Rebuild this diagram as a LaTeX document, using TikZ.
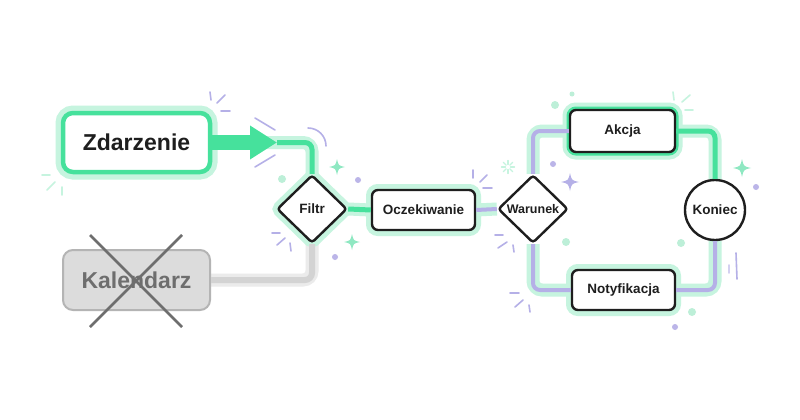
\documentclass[tikz,border=0pt]{standalone}
\usepackage{fontspec}
\setmainfont{Liberation Sans}
\usetikzlibrary{shapes.geometric,arrows.meta,backgrounds}

\definecolor{ink}{HTML}{1E1E1E}
\definecolor{zgreen}{HTML}{46E19C}
\definecolor{mint}{HTML}{C6F4DF}
\definecolor{mintdot}{HTML}{BDEFD8}
\definecolor{mintstar}{HTML}{8FE8C2}
\definecolor{lav}{HTML}{B5B0E7}
\definecolor{lavdot}{HTML}{BBB5E8}
\definecolor{kfill}{HTML}{DCDCDC}
\definecolor{kborder}{HTML}{B4B4B4}
\definecolor{ktext}{HTML}{6E6E6E}
\definecolor{kline}{HTML}{D3D3D3}
\definecolor{kglow}{HTML}{EBEBEB}

\tikzset{
  label font/.style={font=\bfseries\fontsize{13.5}{15}\selectfont},
  box/.style={draw=ink, line width=2.4pt, fill=white, rounded corners=6pt,
    inner sep=0pt, text=ink, label font},
  glow/.style={preaction={draw=mint, line width=12pt}},
  bigbox/.style={rounded corners=10pt, inner sep=0pt, minimum width=147pt,
    minimum height=59pt, font=\bfseries\fontsize{23}{26}\selectfont},
  gate/.style={shape=diamond, draw=ink, line width=2.4pt, fill=white, inner sep=0pt,
    minimum width=70pt, minimum height=68pt, rounded corners=3pt, text=ink,
    font=\bfseries\fontsize{12.5}{14}\selectfont},
  halo/.style={draw=mint, line width=13pt, rounded corners=9pt},
  greenline/.style={draw=zgreen, line width=5pt, rounded corners=7pt},
  lavline/.style={draw=lav, line width=4pt, rounded corners=7pt},
  spark/.style={draw=lav, line width=1.6pt, line cap=round},
  mintspark/.style={draw=mint, line width=1.6pt, line cap=round},
  sparkle/.pic={
    \path[pic actions] (0,-1) .. controls (0.18,-0.18) .. (1,0)
      .. controls (0.18,0.18) .. (0,1) .. controls (-0.18,0.18) .. (-1,0)
      .. controls (-0.18,-0.18) .. cycle;
  }
}

\begin{document}
\begin{tikzpicture}[x=1pt,y=-1pt]
\useasboundingbox (0,0) rectangle (800,420);

% nodes
\node[bigbox, draw=zgreen, line width=4.5pt, fill=white, text=ink,
  preaction={draw=mint, line width=15pt}] (Zdarzenie) at (136.5,142.5) {Zdarzenie};
\node[bigbox, draw=kborder, line width=2pt, fill=kfill, text=ktext, minimum height=60pt]
  (Kalendarz) at (136.5,280) {Kalendarz};
\node[gate, glow, label font] (Filtr) at (312,209) {Filtr};
\node[box, glow, minimum width=103pt, minimum height=40pt] (Oczekiwanie) at (423.5,210) {Oczekiwanie};
\node[gate] (Warunek) at (533,209) {Warunek};
\node[box, minimum width=105pt, minimum height=42pt,
  preaction={draw=mint, line width=15pt}, preaction={draw=zgreen, line width=7pt}]
  (Akcja) at (622.5,131) {Akcja};
\node[box, glow, minimum width=103pt, minimum height=40pt] (Notyfikacja) at (623.5,290) {Notyfikacja};
\node[shape=circle, draw=ink, line width=2.4pt, fill=white, minimum size=60pt,
  inner sep=0pt, text=ink, label font] (Koniec) at (715,210) {Koniec};
\coordinate (tipZ) at (277,142.5);

% crossed out
\draw[ktext, line width=2.5pt] (90,235) -- (182,327) (182,235) -- (90,327);

% connectors
\begin{scope}[on background layer]
\fill[white] (0,0) rectangle (800,420);
\draw[halo] (Zdarzenie.east) -| (Filtr.north);
\draw[draw=kglow, line width=13pt, rounded corners=9pt] (Kalendarz.east) -| (Filtr.south);
\draw[halo] (Filtr.east) -- (Oczekiwanie.west);
\draw[halo] (Oczekiwanie.east) -- (Warunek.west);
\draw[halo] (Warunek.north) |- (Akcja.west);
\draw[halo] (Warunek.south) |- (Notyfikacja.west);
\draw[halo] (Akcja.east) -| (Koniec.north);
\draw[halo] (Notyfikacja.east) -| (Koniec.south);
\end{scope}
\draw[draw=kline, line width=6pt, rounded corners=7pt] (Kalendarz.east) -| (Filtr.south);
\draw[greenline] (tipZ) -| (Filtr.north);
\draw[zgreen, line width=15pt, -{Triangle[length=27pt 0, width=32pt 0]}] (Zdarzenie.east) -- (tipZ);
\draw[greenline] (Filtr.east) -- (Oczekiwanie.west);
\draw[lavline] (Oczekiwanie.east) -- (Warunek.west);
\draw[lavline] (Warunek.north) |- (Akcja.west);
\draw[lavline] (Warunek.south) |- (Notyfikacja.west);
\draw[greenline] (Akcja.east) -| (Koniec.north);
\draw[lavline] (Notyfikacja.east) -| (Koniec.south);

% sparks and dots
\draw[spark] (210,92) -- (211,100) (217,103) -- (225,95) (221,111) -- (230,111);
\draw[spark] (255,118) -- (275,130) (255,167) -- (275,155);
\draw[spark] (308,128) .. controls (318,128) and (326,136) .. (326,146);
\draw[mintspark] (42,175) -- (50,175) (47,190) -- (55,182) (62,187) -- (62,195);
\draw[spark] (272,233) -- (280,233) (277,245) -- (285,238) (290,243) -- (291,251);
\draw[spark] (473,170) -- (473,178) (480,182) -- (487,175) (483,188) -- (492,188);
\draw[spark] (495,235) -- (503,235) (498,248) -- (507,242) (513,245) -- (514,252);
\draw[spark] (510,293) -- (519,293) (515,307) -- (523,300) (529,305) -- (530,312);
\draw[mintspark] (673,92) -- (674,100) (682,102) -- (690,95) (685,110) -- (693,110);
\draw[spark] (736,253) -- (737,279);
\draw[spark, lav!60] (729,265) -- (729,273);
\foreach \a in {0,45,...,315}
  \draw[mintspark, line width=1.2pt] (508,167) ++(\a:2.5) -- ++(\a:4);

\pic[fill=mintstar, scale=8] at (337,167) {sparkle};
\pic[fill=mintstar, scale=8] at (352,242) {sparkle};
\pic[fill=lav, scale=9] at (570,182) {sparkle};
\pic[fill=mintstar, scale=9] at (742,168) {sparkle};

\fill[mintdot] (282,179) circle (4pt) (566,242) circle (4pt) (555,105) circle (4pt)
  (572,94) circle (2.5pt) (681,243) circle (4pt) (692,312) circle (4pt);
\fill[lavdot] (358,180) circle (3pt) (335,257) circle (3pt) (553,164) circle (3pt)
  (756,187) circle (3pt) (675,327) circle (3pt);
\end{tikzpicture}
\end{document}
